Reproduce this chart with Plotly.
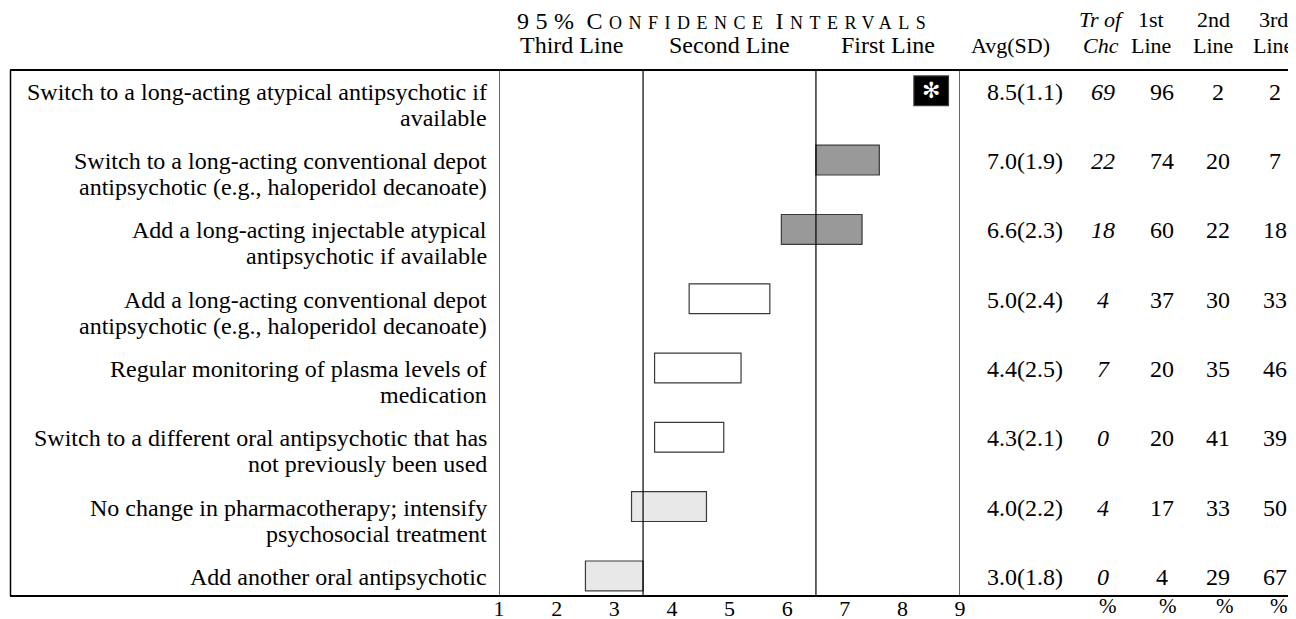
import plotly.graph_objects as go

W, H = 1296, 619
OFF = 8   # the page body adds an 8px margin around the figure
SERIF = "Liberation Serif, Times New Roman, serif"
INK = "#000000"

# ── Data ──────────────────────────────────────────────────────────────
treatments = [
    "Switch to a long-acting atypical antipsychotic if<br>available",
    "Switch to a long-acting conventional depot<br>antipsychotic (e.g., haloperidol decanoate)",
    "Add a long-acting injectable atypical<br>antipsychotic if available",
    "Add a long-acting conventional depot<br>antipsychotic (e.g., haloperidol decanoate)",
    "Regular monitoring of plasma levels of<br>medication",
    "Switch to a different oral antipsychotic that has<br>not previously been used",
    "No change in pharmacotherapy; intensify<br>psychosocial treatment",
    "Add another oral antipsychotic",
]
ci_low  = [8.2, 6.5, 5.9, 4.3, 3.7, 3.7, 3.3, 2.5]
ci_high = [8.8, 7.6, 7.3, 5.7, 5.2, 4.9, 4.6, 3.5]
rating  = ["choice", "first", "first", "second", "second", "second", "third", "third"]
avg     = [8.5, 7.0, 6.6, 5.0, 4.4, 4.3, 4.0, 3.0]
sd      = [1.1, 1.9, 2.3, 2.4, 2.5, 2.1, 2.2, 1.8]
tr_of_choice = [69, 22, 18, 4, 7, 0, 4, 0]
pct_first    = [96, 74, 60, 37, 20, 20, 17, 4]
pct_second   = [2, 20, 22, 30, 35, 41, 33, 29]
pct_third    = [2, 7, 18, 33, 46, 39, 50, 67]

scale_ticks = [1, 2, 3, 4, 5, 6, 7, 8, 9]
scale_bounds = [1, 3.5, 6.5, 9]          # third / second / first line regions
region_names = ["Third Line", "Second Line", "First Line"]

# ── Styling ───────────────────────────────────────────────────────────
fill = {"choice": "#000000", "first": "#999999", "second": "#ffffff", "third": "#e8e8e8"}


def px(x):
    return (x - OFF) / W


def py(y):
    return 1 - (y - OFF) / H


rows = list(range(len(treatments)))

fig = go.Figure(go.Bar(
    y=rows,
    x=[h - l for l, h in zip(ci_low, ci_high)],
    base=ci_low,
    orientation="h",
    width=0.43,
    marker=dict(color=[fill[r] for r in rating],
                line=dict(color="#3a3a3a", width=1.2)),
    hoverinfo="skip",
))

shapes = []
# table rules
for yy in (70, 596):
    shapes.append(dict(type="line", xref="paper", yref="paper",
                       x0=px(10), x1=1, y0=py(yy), y1=py(yy),
                       line=dict(color=INK, width=2)))
shapes.append(dict(type="line", xref="paper", yref="paper",
                   x0=px(10.5), x1=px(10.5), y0=py(70), y1=py(596),
                   line=dict(color=INK, width=1.5)))
for b in scale_bounds:
    shapes.append(dict(type="line", xref="x", yref="y domain",
                       x0=b, x1=b, y0=0, y1=1,
                       line=dict(color=INK, width=1.2)))

ann = []


def txt(x, y, s, xref="paper", yref="paper", size=24, xanchor="center",
        yanchor="middle", yshift=0, italic=False, color=INK, family=SERIF):
    if italic:
        s = f"<i>{s}</i>"
    ann.append(dict(x=x, y=y, xref=xref, yref=yref, text=s, showarrow=False,
                    xanchor=xanchor, yanchor=yanchor, yshift=yshift,
                    font=dict(family=family, size=size, color=color)))


# row labels, one annotation per line to keep the tight leading
for i, label in enumerate(treatments):
    for k, line in enumerate(label.split("<br>")):
        txt(px(489), i, line, yref="y", xanchor="right", yshift=-26 * k - 1)

# treatment-of-choice marker
for i, r in enumerate(rating):
    if r == "choice":
        txt((ci_low[i] + ci_high[i]) / 2, i, "✻", xref="x", yref="y",
            size=22, color="#ffffff", family="DejaVu Sans")

# numeric columns
col_x = [1025, 1103, 1162, 1218, 1275]
for i in rows:
    txt(px(col_x[0]), i, f"{avg[i]:.1f}({sd[i]:.1f})", yref="y", yshift=-1)
    txt(px(col_x[1]), i, f"{tr_of_choice[i]}", yref="y", yshift=-1, italic=True)
    txt(px(col_x[2]), i, f"{pct_first[i]}", yref="y", yshift=-1)
    txt(px(col_x[3]), i, f"{pct_second[i]}", yref="y", yshift=-1)
    txt(px(col_x[4]), i, f"{pct_third[i]}", yref="y", yshift=-1)

# header
ls = "letter-spacing:6.5px"
sc = f"font-size:18px;{ls}"
title = (f"<span style='{ls}'>95%</span> "
         f"<span style='{ls}'>C</span>"
         f"<span style='{sc}'>ONFIDENCE</span> "
         f"<span style='{ls}'>I</span>"
         f"<span style='{sc}'>NTERVALS</span>")
txt(px(724), py(21), title)
for name, a, b in zip(region_names, scale_bounds[:-1], scale_bounds[1:]):
    txt((a + b) / 2, py(45), name, xref="x")

HS = 22
txt(px(1010), py(45), "Avg(SD)", size=HS)
txt(px(1101), py(20), "Tr of", italic=True, size=HS)
txt(px(1101), py(45), "Chc", italic=True, size=HS)
for x, top in zip([1151, 1213, 1273], ["1st", "2nd", "3rd"]):
    txt(px(x), py(20), top, size=HS)
    txt(px(x), py(45), "Line", size=HS)

# percent units under the columns
for x in [1108, 1168, 1225, 1279]:
    txt(px(x), py(606), "%", size=21)

fig.update_layout(
    width=W, height=H,
    margin=dict(l=0, r=0, t=0, b=0),
    paper_bgcolor="white", plot_bgcolor="white",
    showlegend=False,
    font=dict(family=SERIF, size=24, color=INK),
    xaxis=dict(domain=[px(499), px(960)], range=[1, 9],
               tickvals=scale_ticks, ticks="", showgrid=False,
               zeroline=False, showline=False, automargin=False,
               ticklabelstandoff=-3,
               tickfont=dict(family=SERIF, size=22, color=INK),
               fixedrange=True),
    yaxis=dict(domain=[py(596), py(70)], range=[7.29, -0.3],
               visible=False, fixedrange=True),
    shapes=shapes,
    annotations=ann,
)

fig.write_html("out.html")
